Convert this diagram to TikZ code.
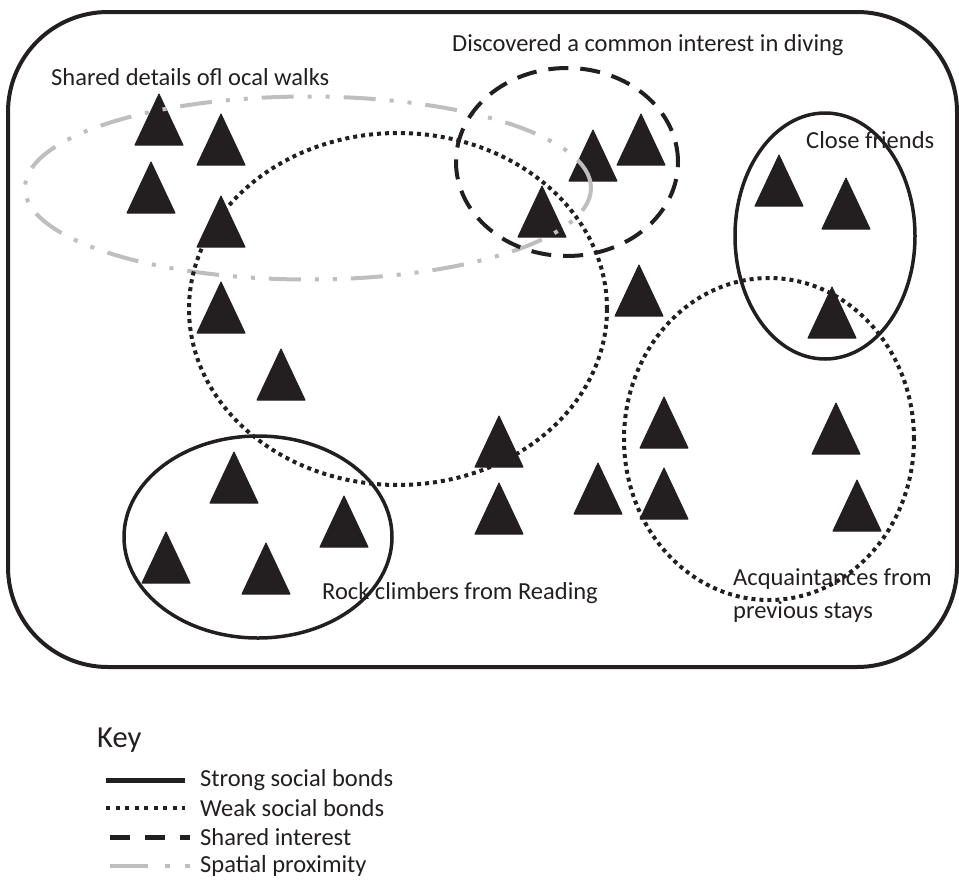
\documentclass[tikz,border=0pt]{standalone}
\usepackage{fontspec}
\setmainfont{Carlito}
\usepackage{tikz}
\definecolor{myblack}{RGB}{35,31,32}
\definecolor{mygrey}{RGB}{190,190,190}
\usetikzlibrary{shapes.geometric,positioning}

\begin{document}
\begin{tikzpicture}[
  x=1pt, y=-1pt,
  labeltext/.style={
    anchor=west,
    inner sep=0pt,
    text=myblack,
    font=\fontsize{24.5}{33}\selectfont
    },
  member/.style={fill=myblack, draw=myblack, line width=1pt, line join=round},
  group/.style={ellipse, inner sep=0pt},
  strongbond/.style={draw=myblack, line width=3.5pt},
  weakbond/.style={draw=myblack, line width=4pt, dash pattern=on 4pt off 4pt},
  sharedint/.style={draw=myblack, line width=4pt, dash pattern=on 20pt off 12pt},
  spatial/.style={draw=mygrey, line width=4pt,
    dash pattern=on 32pt off 14pt on 4pt off 14pt on 4pt off 14pt}
]
\useasboundingbox (0,0) rectangle (959,879);

% campers
\foreach \Px/\Py [count=\Pi from 1] in {159/94, 221/114, 151/162, 221/196,
  593/130, 641/114, 542/186, 779/155, 846/178, 639/265, 832/287, 221/282,
  281/349, 664/397, 836/403, 499/416, 234/452, 344/496, 166/532, 266/543,
  499/483, 598/463, 664/468, 857/480}
  \filldraw[member] (\Px,\Py) coordinate (m\Pi) -- ++(-24,51) -- ++(48,0) -- cycle;

\node[labeltext] (walkslabel) at (51,77) {Shared details ofl ocal walks};
\node[labeltext] (divinglabel) at (452,45) {Discovered a common interest in diving};
\node[labeltext] (friendslabel) at (806,140) {Close friends};
\node[labeltext] (rocklabel) at (322,593) {Rock climbers from Reading};
\node[labeltext, align=left] (acqlabel) at (733,596) {Acquaintances from\\previous stays};

% groups
\node[group, spatial, minimum width=566pt, minimum height=183pt] (walks) at (308,188) {};
\node[group, weakbond, minimum width=418pt, minimum height=352pt] (weakcentre) at (398,309) {};
\node[group, sharedint, minimum width=222pt, minimum height=188pt] (diving) at (567,162) {};
\node[group, strongbond, minimum width=180pt, minimum height=246pt] (friends) at (825,236) {};
\node[group, weakbond, minimum width=290pt, minimum height=322pt] (acq) at (769,439) {};
\node[group, strongbond, minimum width=268pt, minimum height=202pt] (rock) at (258,537) {};

\draw[myblack, line width=4pt, rounded corners=100pt] (8,12) rectangle (957,667);

% key
\node[labeltext, font=\fontsize{30.5}{34}\selectfont] (key) at (97,740) {Key};
\node[labeltext] (kstrong) at (200,780) {Strong social bonds};
\node[labeltext] (kweak) at (200,808) {Weak social bonds};
\node[labeltext] (kshared) at (200,837) {Shared interest};
\node[labeltext] (kspatial) at (200,866) {Spatial proximity};

\draw[strongbond, line width=5pt] ([xshift=-94pt]kstrong.west) -- ([xshift=-15pt]kstrong.west);
\draw[weakbond, dash pattern=on 4pt off 5.5pt] ([xshift=-94pt]kweak.west) -- ([xshift=-15pt]kweak.west);
\draw[sharedint, line width=5pt, dash pattern=on 20pt off 15pt] ([xshift=-90pt]kshared.west) -- ([xshift=-10pt]kshared.west);
\draw[spatial, line width=4.5pt, dash pattern=on 38pt off 17pt on 5pt off 15pt on 5pt off 15pt] ([xshift=-90pt]kspatial.west) -- ([xshift=-10pt]kspatial.west);
\end{tikzpicture}
\end{document}
